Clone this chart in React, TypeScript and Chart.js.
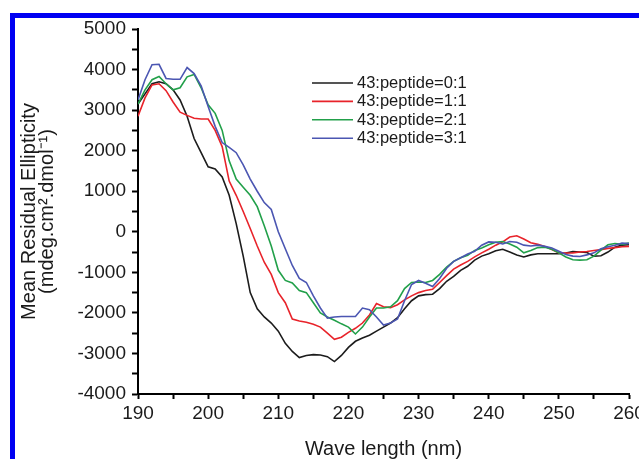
import React, { useEffect, useRef } from 'react';
import { Chart, registerables } from 'chart.js';

Chart.register(...registerables);

// Wavelength grid (nm)
const wavelengths = [
  190, 191, 192, 193, 194, 195, 196, 197, 198, 199,
  200, 201, 202, 203, 204, 205, 206, 207, 208, 209,
  210, 211, 212, 213, 214, 215, 216, 217, 218, 219,
  220, 221, 222, 223, 224, 225, 226, 227, 228, 229,
  230, 231, 232, 233, 234, 235, 236, 237, 238, 239,
  240, 241, 242, 243, 244, 245, 246, 247, 248, 249,
  250, 251, 252, 253, 254, 255, 256, 257, 258, 259,
  260,
];

// 43:peptide = 0:1 (black)
const ratio0 = [
  3150, 3400, 3650, 3700, 3650, 3500, 3250, 2850, 2300, 1950,
  1600, 1550, 1350, 900, 200, -600, -1500, -1900, -2100, -2250,
  -2450, -2750, -2950, -3100, -3050, -3030, -3040, -3080, -3200, -3050,
  -2850, -2700, -2620, -2550, -2450, -2350, -2250, -2120, -1900, -1700,
  -1580, -1550, -1540, -1400, -1220, -1100, -950, -850, -700, -600,
  -540, -470, -430, -500, -570, -620, -570, -540, -540, -540,
  -540, -525, -490, -500, -510, -600, -590, -500, -380, -330,
  -320,
];

// 43:peptide = 1:1 (red)
const ratio1 = [
  2850, 3300, 3620, 3650, 3480, 3200, 2950, 2870, 2800, 2780,
  2780, 2500, 2100, 1250, 900, 500, 80, -350, -750, -1050,
  -1500, -1750, -2150, -2200, -2230, -2280, -2350, -2500, -2650, -2600,
  -2480, -2380, -2250, -2050, -1770, -1850, -1870, -1800, -1680, -1580,
  -1500, -1450, -1420, -1250, -1080, -920, -820, -730, -620, -520,
  -430, -330, -250, -130, -100, -180, -270, -310, -360, -440,
  -520, -525, -520, -500, -485, -460, -440, -410, -390, -370,
  -360,
];

// 43:peptide = 2:1 (green)
const ratio2 = [
  3150, 3500, 3750, 3830, 3650, 3500, 3550, 3820, 3880, 3550,
  3130, 2920, 2500, 1750, 1300, 1100, 900, 620, 150, -350,
  -950, -1200, -1260, -1450, -1500, -1750, -2000, -2100, -2180, -2270,
  -2350, -2520, -2350, -2100, -1880, -1880, -1850, -1700, -1400, -1250,
  -1240, -1250, -1200, -1050, -870, -730, -640, -580, -460, -400,
  -320, -260, -240, -300, -380, -520, -460, -390, -380, -430,
  -520, -620, -690, -700, -690, -600, -450, -320, -290, -310,
  -280,
];

// 43:peptide = 3:1 (blue)
const ratio3 = [
  3250, 3750, 4120, 4130, 3780, 3760, 3760, 4050, 3900, 3600,
  3090, 2600, 2200, 2080, 1950, 1650, 1300, 1000, 720, 550,
  0, -420, -830, -1150, -1250, -1580, -1880, -2130, -2100, -2090,
  -2090, -2090, -1880, -1920, -2100, -2300, -2250, -2150, -1700, -1300,
  -1200, -1270, -1350, -1150, -900, -730, -640, -550, -480, -330,
  -250, -260, -300, -240, -260, -330, -350, -330, -360, -400,
  -480, -560, -600, -610, -570, -520, -420, -370, -330, -280,
  -290,
];

const seriesLabels = ['43:peptide=0:1', '43:peptide=1:1', '43:peptide=2:1', '43:peptide=3:1'];
const seriesColors = ['#1c1c1c', '#e8232a', '#22a04a', '#4b56b2'];
const seriesValues = [ratio0, ratio1, ratio2, ratio3];

const FONT = '"Liberation Sans", Arial, Helvetica, sans-serif';
const TEXT = '#1a1a1a';

export default function App() {
  const ref = useRef<HTMLCanvasElement>(null);

  useEffect(() => {
    const canvas = ref.current;
    if (!canvas) return;

    const framePlugin = {
      id: 'frame',
      beforeDraw(chart: any) {
        const { ctx } = chart;
        ctx.save();
        ctx.fillStyle = '#ffffff';
        ctx.fillRect(0, 0, chart.width, chart.height);
        ctx.fillStyle = '#0000f2';
        ctx.fillRect(10, 13, chart.width - 10, 5);
        ctx.fillRect(10, 13, 5, chart.height - 13);
        ctx.restore();
      },
    };

    const legendPlugin = {
      id: 'insideLegend',
      afterDraw(chart: any) {
        const { ctx } = chart;
        ctx.save();
        ctx.font = `16.5px ${FONT}`;
        ctx.textBaseline = 'middle';
        ctx.textAlign = 'left';
        chart.data.datasets.forEach((ds: any, i: number) => {
          const y = 83 + i * 18.4;
          ctx.strokeStyle = ds.borderColor;
          ctx.lineWidth = 1.6;
          ctx.beginPath();
          ctx.moveTo(312, y);
          ctx.lineTo(353, y);
          ctx.stroke();
          ctx.fillStyle = TEXT;
          ctx.fillText(ds.label, 357, y + 0.5);
        });
        ctx.restore();
      },
    };

    const chart = new Chart(canvas, {
      type: 'line',
      data: {
        datasets: seriesValues.map((vals, i) => ({
          label: seriesLabels[i],
          data: wavelengths.map((w, j) => ({ x: w, y: vals[j] })),
          borderColor: seriesColors[i],
          backgroundColor: seriesColors[i],
          borderWidth: 1.6,
          pointRadius: 0,
          tension: 0,
          fill: false,
          order: 3 - i,
        })),
      },
      options: {
        responsive: false,
        animation: false,
        devicePixelRatio: 1,
        layout: { padding: { left: 0, top: 29, right: 10, bottom: 0 } },
        plugins: {
          legend: { display: false },
          tooltip: { enabled: false },
          title: { display: false },
        },
        scales: {
          x: {
            type: 'linear',
            min: 190,
            max: 260,
            afterFit(s: any) {
              s.height = 65;
              s.paddingLeft = 0;
              s.paddingRight = 0;
            },
            border: { display: true, color: '#000', width: 2 },
            grid: {
              display: true,
              drawOnChartArea: false,
              drawTicks: true,
              tickLength: 5,
              tickColor: '#000',
              tickWidth: 2,
            },
            ticks: {
              stepSize: 5,
              autoSkip: false,
              maxRotation: 0,
              minRotation: 0,
              padding: 3,
              color: TEXT,
              font: { family: FONT, size: 19 },
              callback: (v: any) => (Number(v) % 10 === 0 ? String(v) : ''),
            },
            title: {
              display: true,
              text: 'Wave length (nm)',
              color: TEXT,
              font: { family: FONT, size: 20, lineHeight: 1.0 },
              padding: { top: 0, bottom: 0 },
            },
          },
          y: {
            type: 'linear',
            min: -4000,
            max: 5000,
            afterFit(s: any) {
              s.width = 138;
              s.paddingTop = 0;
              s.paddingBottom = 0;
            },
            border: { display: true, color: '#000', width: 2 },
            grid: {
              display: true,
              drawOnChartArea: false,
              drawTicks: true,
              tickLength: 6,
              tickColor: '#000',
              tickWidth: 2,
            },
            ticks: {
              stepSize: 500,
              autoSkip: false,
              padding: 6,
              color: TEXT,
              font: { family: FONT, size: 19 },
              callback: (v: any) => (Number(v) % 1000 === 0 ? String(v) : ''),
            },
            title: {
              display: true,
              text: ['Mean Residual Ellipticity', '(mdeg.cm\u00b2.dmol\u207b\u00b9)'],
              color: TEXT,
              font: { family: FONT, size: 20, lineHeight: 0.9 },
              padding: { top: 20, bottom: 0 },
            },
          },
        },
      },
      plugins: [framePlugin, legendPlugin],
    } as any);

    return () => chart.destroy();
  }, []);

  return (
    <div style={{ position: 'fixed', left: 0, top: 0, width: 639, height: 459, background: '#fff' }}>
      <canvas ref={ref} width={639} height={459} style={{ display: 'block' }} />
    </div>
  );
}
